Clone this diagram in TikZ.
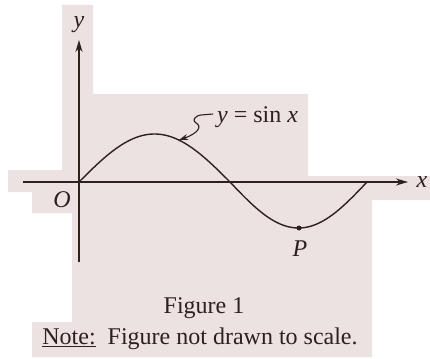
\documentclass[tikz,border=0pt]{standalone}
\usepackage{fontspec}
\setmainfont{Liberation Serif}
\usetikzlibrary{arrows.meta}
\definecolor{paper}{RGB}{236,226,226}
\definecolor{ink}{RGB}{45,33,30}
\begin{document}
\begin{tikzpicture}[x=1pt,y=-1pt,
  axis/.style={draw=ink,line width=1.3pt,-{Stealth[length=12pt,width=7pt]}},
  curve/.style={draw=ink,line width=1.4pt},
  lbl/.style={text=ink,font=\fontsize{24}{27}\selectfont,inner sep=0pt},
  captext/.style={text=ink,font=\fontsize{24}{27}\selectfont,inner sep=0pt}]
\useasboundingbox (0,0) rectangle (430,358);
\fill[white] (0,0) rectangle (430,358);
\fill[paper] (62,5) -- (93,5) -- (93,94) -- (308,94) -- (308,176) -- (430,176) -- (430,200)
  -- (372,200) -- (372,357) -- (32,357) -- (32,322) -- (72,322) -- (72,213) -- (32,213)
  -- (32,192) -- (8,192) -- (8,170) -- (62,170) -- cycle;
% axes
\coordinate (o) at (79,182);
\coordinate (xs) at (23,182);
\coordinate (xe) at (408,182);
\coordinate (ys) at (79,262);
\coordinate (ye) at (79,40);
\draw[axis] (xs) -- (xe);
\draw[axis] (ys) -- (ye);
% curve
\draw[curve] plot[domain=0:180,samples=60,smooth] ({79+0.83889*\x},{182-48*sin(\x)});
\draw[curve] plot[domain=0:180,samples=60,smooth] ({230+0.76111*\x},{182+46*sin(\x)});
\node[circle,fill=ink,inner sep=0pt,minimum size=5pt] (p) at (299,228) {};
% labels
\node[lbl] (ylab) at (79,25) {\textit{y}};
\node[lbl] (xlab) at (422,182) {\textit{x}};
\node[lbl] (olab) at (62,200) {\textit{O}};
\node[lbl] (plab) at (300,249) {\textit{P}};
\node[lbl,anchor=base west] (eq) at (217,123) {\textit{y} = sin \textit{x}};
\coordinate (tip) at (179,140);
\draw[draw=ink,line width=1.1pt,-{Stealth[length=9pt,width=6pt]}]
  (213,114) -- (201,115) .. controls (194,116) and (192,121) .. (196,123)
  .. controls (202,126) and (199,133) .. (tip);
% captions
\node[captext] (fig) at (204,308) {Figure 1};
\node[captext,anchor=base] (note) at (200,344) {\underline{Note:}\ \ Figure not drawn to scale.};
\end{tikzpicture}
\end{document}
